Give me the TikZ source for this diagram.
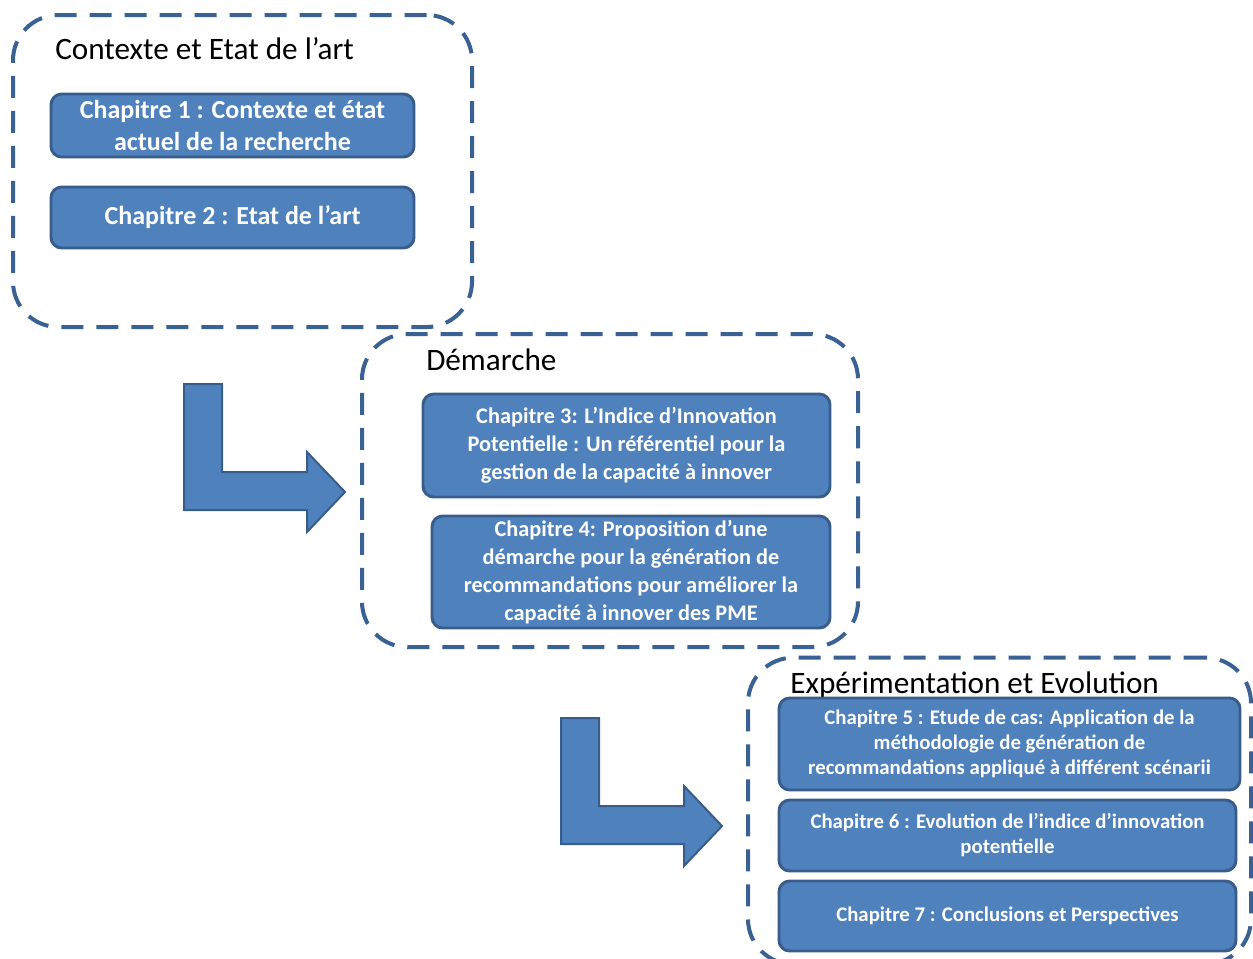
\documentclass[tikz,border=0pt]{standalone}
\usepackage{fontspec}
\setmainfont{Carlito}
\definecolor{chfill}{HTML}{4F81BD}
\definecolor{chedge}{HTML}{385D8A}
\definecolor{dashcol}{HTML}{3A6194}
\tikzset{
  groupbox/.style={draw=dashcol, line width=3pt, dash pattern=on 16.5pt off 9.75pt, rounded corners=34pt, fill=none, inner sep=0pt},
  chapbox/.style={draw=chedge, fill=chfill, line width=2.2pt, rounded corners=8pt, align=center, text=white, font=\bfseries, inner sep=0pt},
  grouptitle/.style={anchor=base west, inner sep=0pt, font=\fontsize{23.4}{27}\selectfont, text=black},
  bigarrow/.style={draw=chedge, fill=chfill, line width=1.5pt, line join=miter},
  fA/.style={font=\fontsize{19.5}{24}\selectfont\bfseries},
  fB/.style={font=\fontsize{16.75}{21}\selectfont\bfseries},
  fC/.style={font=\fontsize{15.6}{18.75}\selectfont\bfseries},
}
\begin{document}
\begin{tikzpicture}[x=0.75pt,y=-0.75pt]
\useasboundingbox (0,0) rectangle (1253,958);
\begin{scope}
\clip (0,0) rectangle (1253,958);
% group boxes
\node[groupbox, minimum width=344.25pt, minimum height=234pt] (g1) at (242.5,171) {};
\node[groupbox, minimum width=372pt, minimum height=234.75pt] (g2) at (610,490.5) {};
\node[groupbox, minimum width=377.25pt, minimum height=230pt] (g3) at (999.5,811) {};
\end{scope}
% titles
\node[grouptitle] (t1) at (55,59) {Contexte et Etat de l’art};
\node[grouptitle] (t2) at (426,370) {Démarche};
\node[grouptitle] (t3) at (790,693) {Expérimentation et Evolution};
% chapters
\node[chapbox, fA, minimum width=272.25pt, minimum height=47.25pt] (c1) at (232.5,125.5) {Chapitre 1 : Contexte et état\\actuel de la recherche};
\node[chapbox, fA, minimum width=272.25pt, minimum height=45.75pt] (c2) at (232.5,217.5) {Chapitre 2 : Etat de l’art};
\node[chapbox, fB, minimum width=305.25pt, minimum height=77.25pt] (c3) at (626.5,445.5) {Chapitre 3: L’Indice d’Innovation\\Potentielle : Un référentiel pour la\\gestion de la capacité à innover};
\node[chapbox, fB, minimum width=298.5pt, minimum height=84pt] (c4) at (631,572) {Chapitre 4: Proposition d’une\\démarche pour la génération de\\recommandations pour améliorer la\\capacité à innover des PME};
\node[chapbox, fC, minimum width=345.75pt, minimum height=69pt] (c5) at (1009.5,744) {Chapitre 5 : Etude de cas: Application de la\\méthodologie de génération de\\recommandations appliqué à différent scénarii};
\node[chapbox, fC, minimum width=342.75pt, minimum height=53.25pt] (c6) at (1007.5,835.5) {Chapitre 6 : Evolution de l’indice d’innovation\\potentielle};
\node[chapbox, fC, minimum width=342.75pt, minimum height=52.5pt] (c7) at (1007.5,916) {Chapitre 7 : Conclusions et Perspectives};
% bent arrows
\draw[bigarrow] (184,384) -- (222,384) -- (222,472) -- (307,472) -- (307,452) -- (345,492) -- (307,532) -- (307,510) -- (184,510) -- cycle;
\draw[bigarrow] (561,718) -- (599,718) -- (599,806) -- (684,806) -- (684,786) -- (722,826) -- (684,866) -- (684,844) -- (561,844) -- cycle;
\end{tikzpicture}
\end{document}
